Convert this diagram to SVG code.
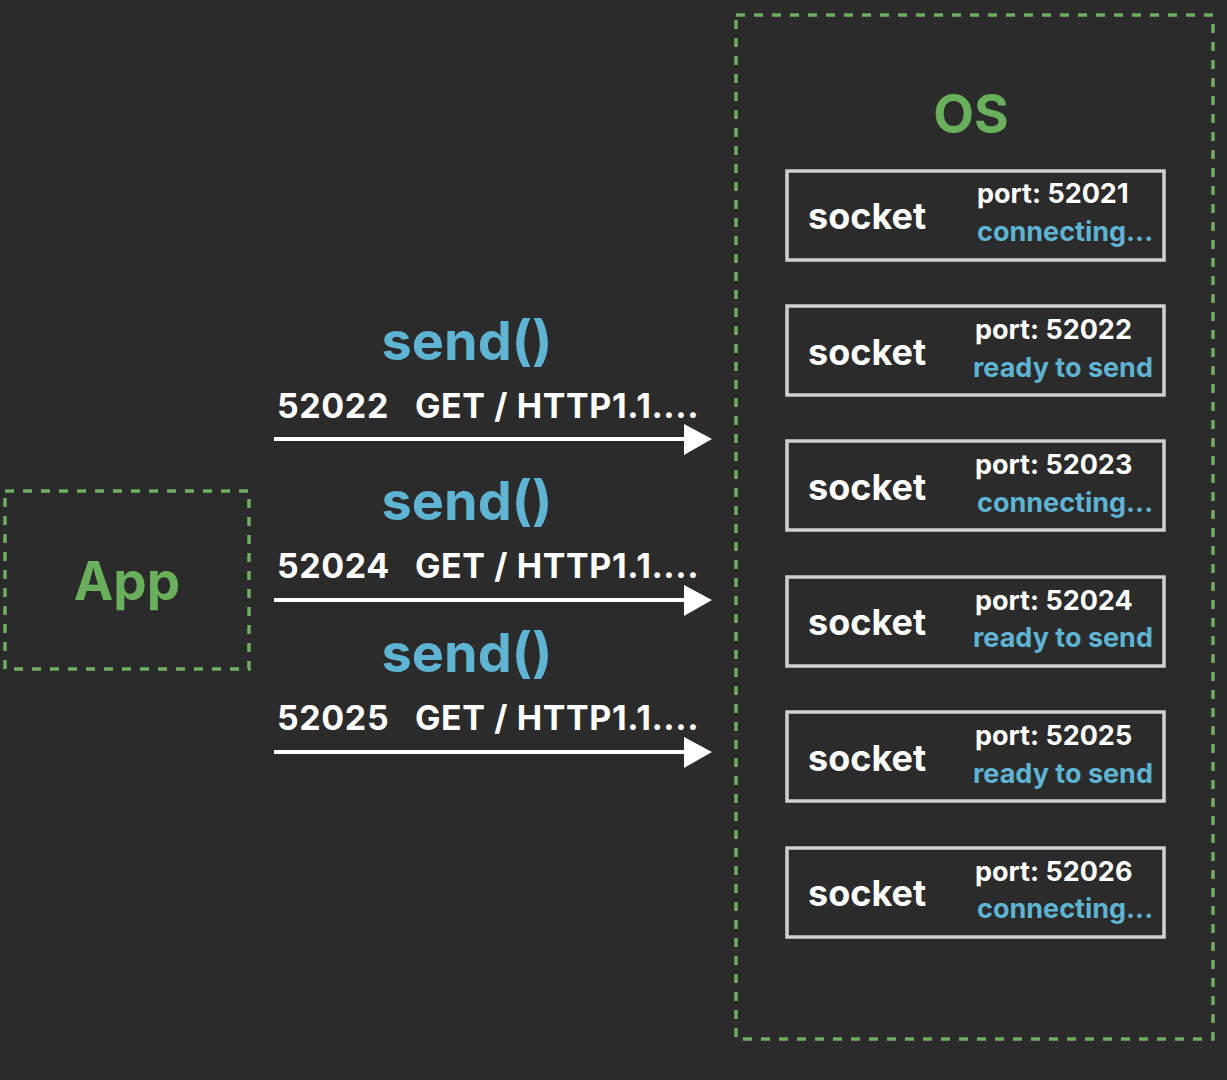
<svg xmlns="http://www.w3.org/2000/svg" width="1227" height="1080" viewBox="0 0 1227 1080">
<defs>
<style>
.dash{fill:none;stroke:#6fae62;stroke-width:3.5;stroke-dasharray:9 9}
.sock{fill:#2b2b2b;stroke:#d0d0d0;stroke-width:3.5}
.t{font-family:Inter,"Liberation Sans",sans-serif;font-weight:700}
.w{fill:#ffffff}
.b{fill:#5fb3d3}
.g{fill:#6aaf5c}
.lbl{font-size:36px}
.req{font-size:34px;letter-spacing:0.6px}
.send{font-size:54px;text-anchor:middle}
.port{font-size:27px}
.conn{stroke:#ffffff;stroke-width:4;fill:none}
</style>
</defs>
<rect width="1227" height="1080" fill="#2b2b2b"/>
<g id="app">
<rect class="dash" x="5" y="491" width="244" height="178"/>
<text class="t g" x="127" y="600" font-size="53" text-anchor="middle">App</text>
</g>
<g id="os">
<rect class="dash" x="736" y="15" width="477" height="1024"/>
<text class="t g" x="971" y="133" font-size="53" text-anchor="middle">OS</text>
</g>
<g id="socket1">
<rect class="sock" x="787" y="171" width="377" height="89"/>
<text class="t w lbl" x="808" y="229">socket</text>
<text class="t w port" x="977" y="203">port: 52021</text>
<text class="t b port" x="977" y="241">connecting...</text>
</g>
<g id="socket2">
<rect class="sock" x="787" y="306" width="377" height="89"/>
<text class="t w lbl" x="808" y="365">socket</text>
<text class="t w port" x="975" y="339">port: 52022</text>
<text class="t b port" x="973" y="377">ready to send</text>
</g>
<g id="socket3">
<rect class="sock" x="787" y="441" width="377" height="89"/>
<text class="t w lbl" x="808" y="500">socket</text>
<text class="t w port" x="975" y="474">port: 52023</text>
<text class="t b port" x="977" y="512">connecting...</text>
</g>
<g id="socket4">
<rect class="sock" x="787" y="577" width="377" height="89"/>
<text class="t w lbl" x="808" y="635">socket</text>
<text class="t w port" x="975" y="610">port: 52024</text>
<text class="t b port" x="973" y="647">ready to send</text>
</g>
<g id="socket5">
<rect class="sock" x="787" y="712" width="377" height="89"/>
<text class="t w lbl" x="808" y="771">socket</text>
<text class="t w port" x="975" y="745">port: 52025</text>
<text class="t b port" x="973" y="783">ready to send</text>
</g>
<g id="socket6">
<rect class="sock" x="787" y="848" width="377" height="89"/>
<text class="t w lbl" x="808" y="906">socket</text>
<text class="t w port" x="975" y="881">port: 52026</text>
<text class="t b port" x="977" y="918">connecting...</text>
</g>
<g id="connectors">
<line class="conn" x1="274" y1="439" x2="690" y2="439"/>
<path d="M684,424 L712,439 L684,455 Z" fill="#ffffff"/>
<line class="conn" x1="274" y1="600" x2="690" y2="600"/>
<path d="M684,585 L712,600 L684,616 Z" fill="#ffffff"/>
<line class="conn" x1="274" y1="752" x2="690" y2="752"/>
<path d="M684,737 L712,752 L684,768 Z" fill="#ffffff"/>
<text class="t b send" x="467" y="360">send()</text>
<text class="t w req" x="277" y="418">52022</text>
<text class="t w req" x="415" y="418">GET / HTTP1.1....</text>
<text class="t b send" x="467" y="520">send()</text>
<text class="t w req" x="277" y="578">52024</text>
<text class="t w req" x="415" y="578">GET / HTTP1.1....</text>
<text class="t b send" x="467" y="672">send()</text>
<text class="t w req" x="277" y="730">52025</text>
<text class="t w req" x="415" y="730">GET / HTTP1.1....</text>
</g>
</svg>
